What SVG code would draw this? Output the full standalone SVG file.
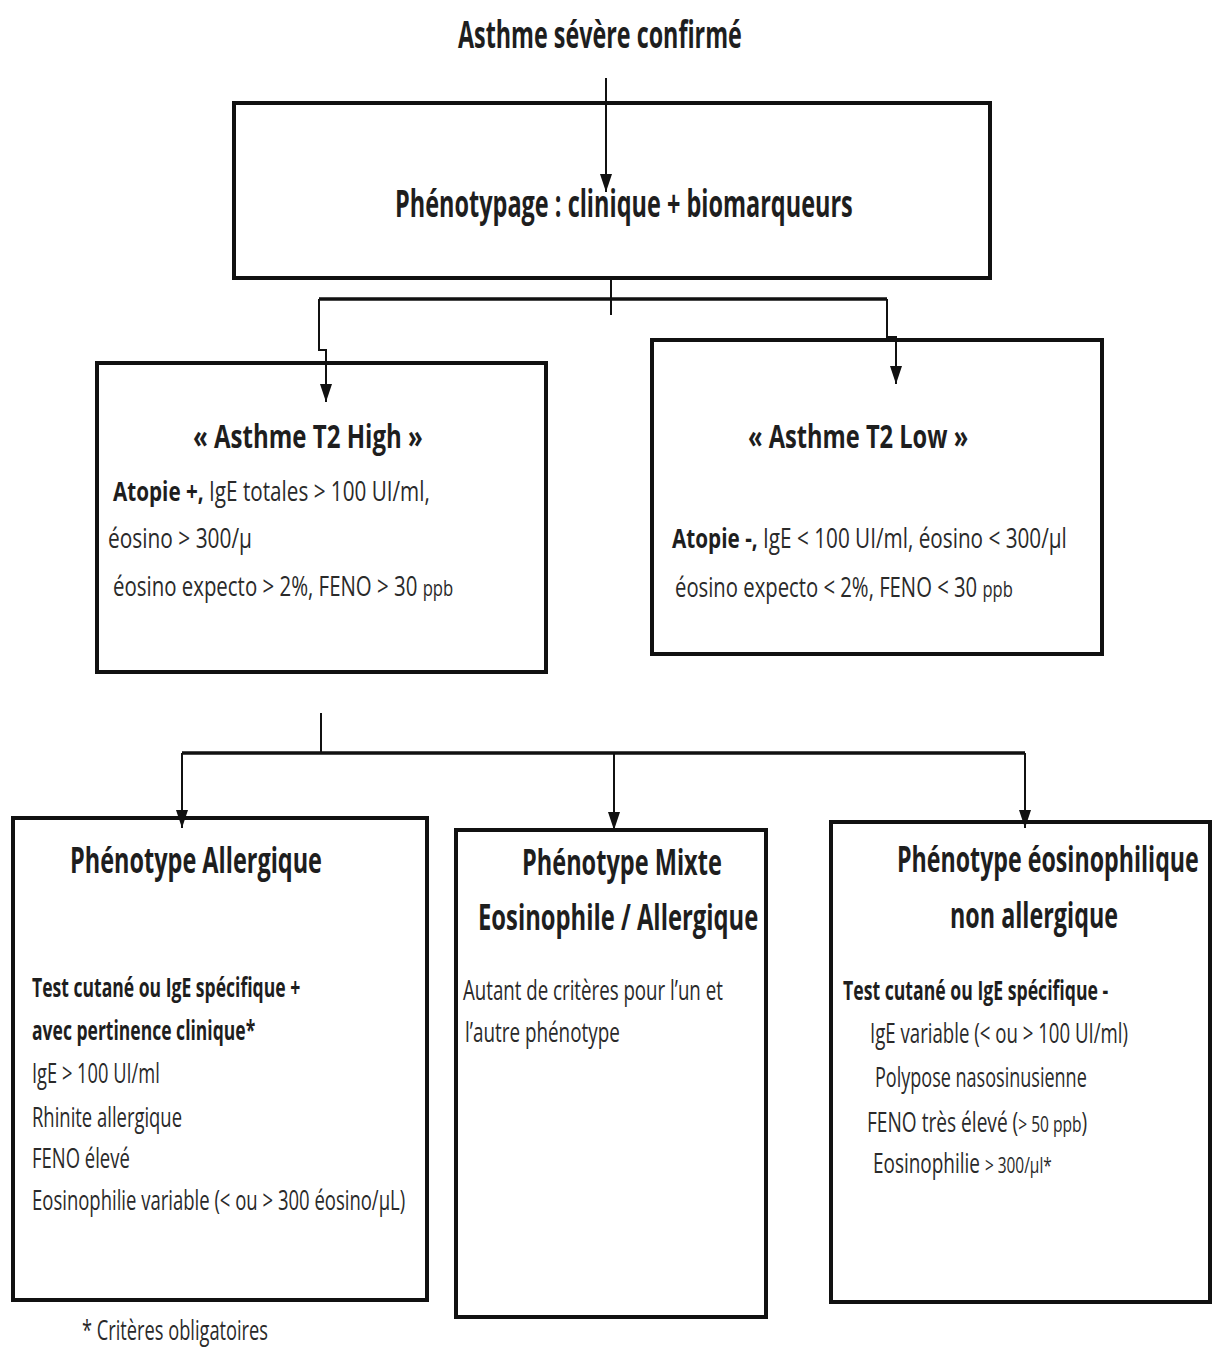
<svg xmlns="http://www.w3.org/2000/svg" width="1212" height="1354" viewBox="0 0 1212 1354">
  <defs>
    <marker id="arrow" viewBox="0 0 18 12" refX="18" refY="6" markerWidth="18" markerHeight="12" markerUnits="userSpaceOnUse" orient="auto">
      <path d="M0,0 L18,6 L0,12 Z" fill="#111"/>
    </marker>
    <style>
      text { font-family: "Open Sans", "Liberation Sans", sans-serif; fill: #1e1e1e; }
      .h1 { font-size: 37px; font-weight: 700; }
      .h2 { font-size: 33px; font-weight: 700; }
      .h3 { font-size: 35px; font-weight: 700; }
      .b { font-size: 27px; font-weight: 400; fill: #2a2a2a; }
      .bb { font-weight: 700; fill: #1e1e1e; }
      .sm { font-size: 22px; }
      .box { fill: #fff; stroke: #111; stroke-width: 4; }
      .wire { fill: none; stroke: #111; stroke-width: 2; }
      .bus { fill: none; stroke: #111; stroke-width: 3.5; }
    </style>
  </defs>

  <rect width="1212" height="1354" fill="#fff"/>

  <!-- title (all text is drawn narrow: x-scale 0.6) -->
  <g id="title">
    <text class="h1" transform="translate(458,48) scale(0.6,1)" textLength="473" lengthAdjust="spacingAndGlyphs">Asthme sévère confirmé</text>
  </g>

  <!-- nodes -->
  <g id="phenotypage">
    <rect class="box" x="234" y="103" width="756" height="175"/>
    <text class="h1" transform="translate(395,217) scale(0.6,1)" textLength="763" lengthAdjust="spacingAndGlyphs">Phénotypage : clinique + biomarqueurs</text>
  </g>

  <g id="t2-high">
    <rect class="box" x="97" y="363" width="449" height="309"/>
    <text class="h2" transform="translate(193,448) scale(0.6,1)" textLength="383" lengthAdjust="spacingAndGlyphs">« Asthme T2 High »</text>
    <text class="b" transform="translate(113,501) scale(0.6,1)" textLength="528" lengthAdjust="spacingAndGlyphs"><tspan class="bb">Atopie +,</tspan> IgE totales &gt; 100 UI/ml,</text>
    <text class="b" transform="translate(108,548) scale(0.6,1)" textLength="240" lengthAdjust="spacingAndGlyphs">éosino &gt; 300/µ</text>
    <text class="b" transform="translate(113,596) scale(0.6,1)" textLength="567" lengthAdjust="spacingAndGlyphs">éosino expecto &gt; 2%, FENO &gt; 30 <tspan class="sm">ppb</tspan></text>
  </g>

  <g id="t2-low">
    <rect class="box" x="652" y="340" width="450" height="314"/>
    <text class="h2" transform="translate(748,448) scale(0.6,1)" textLength="367" lengthAdjust="spacingAndGlyphs">« Asthme T2 Low »</text>
    <text class="b" transform="translate(672,548) scale(0.6,1)" textLength="658" lengthAdjust="spacingAndGlyphs"><tspan class="bb">Atopie -,</tspan> IgE &lt; 100 UI/ml, éosino &lt; 300/µl</text>
    <text class="b" transform="translate(675,597) scale(0.6,1)" textLength="563" lengthAdjust="spacingAndGlyphs">éosino expecto &lt; 2%, FENO &lt; 30 <tspan class="sm">ppb</tspan></text>
  </g>

  <g id="allergique">
    <rect class="box" x="13" y="818" width="414" height="482"/>
    <text class="h3" transform="translate(70,873) scale(0.6,1)" textLength="420" lengthAdjust="spacingAndGlyphs">Phénotype Allergique</text>
    <text class="b bb" transform="translate(32,997) scale(0.6,1)" textLength="447" lengthAdjust="spacingAndGlyphs">Test cutané ou IgE spécifique +</text>
    <text class="b bb" transform="translate(32,1040) scale(0.6,1)" textLength="372" lengthAdjust="spacingAndGlyphs">avec pertinence clinique*</text>
    <text class="b" transform="translate(32,1083) scale(0.6,1)" textLength="213" lengthAdjust="spacingAndGlyphs">IgE &gt; 100 UI/ml</text>
    <text class="b" transform="translate(32,1127) scale(0.6,1)" textLength="250" lengthAdjust="spacingAndGlyphs">Rhinite allergique</text>
    <text class="b" transform="translate(32,1168) scale(0.6,1)" textLength="163" lengthAdjust="spacingAndGlyphs">FENO élevé</text>
    <text class="b" transform="translate(32,1210) scale(0.6,1)" textLength="622" lengthAdjust="spacingAndGlyphs">Eosinophilie variable (&lt; ou &gt; 300 éosino/µL)</text>
  </g>

  <g id="mixte">
    <rect class="box" x="456" y="830" width="310" height="487"/>
    <text class="h3" transform="translate(522,875) scale(0.6,1)" textLength="333" lengthAdjust="spacingAndGlyphs">Phénotype Mixte</text>
    <text class="h3" transform="translate(478,930) scale(0.6,1)" textLength="467" lengthAdjust="spacingAndGlyphs">Eosinophile / Allergique</text>
    <text class="b" transform="translate(463,1000) scale(0.6,1)" textLength="433" lengthAdjust="spacingAndGlyphs">Autant de critères pour l’un et</text>
    <text class="b" transform="translate(465,1042) scale(0.6,1)" textLength="258" lengthAdjust="spacingAndGlyphs">l’autre phénotype</text>
  </g>

  <g id="eosinophilique">
    <rect class="box" x="831" y="822" width="379" height="480"/>
    <text class="h3" transform="translate(897,872) scale(0.6,1)" textLength="503" lengthAdjust="spacingAndGlyphs">Phénotype éosinophilique</text>
    <text class="h3" transform="translate(950,928) scale(0.6,1)" textLength="280" lengthAdjust="spacingAndGlyphs">non allergique</text>
    <text class="b bb" transform="translate(843,1000) scale(0.6,1)" textLength="442" lengthAdjust="spacingAndGlyphs">Test cutané ou IgE spécifique -</text>
    <text class="b" transform="translate(870,1043) scale(0.6,1)" textLength="430" lengthAdjust="spacingAndGlyphs">IgE variable (&lt; ou &gt; 100 UI/ml)</text>
    <text class="b" transform="translate(875,1087) scale(0.6,1)" textLength="353" lengthAdjust="spacingAndGlyphs">Polypose nasosinusienne</text>
    <text class="b" transform="translate(867,1132) scale(0.6,1)" textLength="367" lengthAdjust="spacingAndGlyphs">FENO très élevé (<tspan class="sm">&gt; 50 ppb</tspan>)</text>
    <text class="b" transform="translate(873,1173) scale(0.6,1)" textLength="298" lengthAdjust="spacingAndGlyphs">Eosinophilie <tspan class="sm">&gt; 300/µl*</tspan></text>
  </g>

  <g id="footnote">
    <text class="b" transform="translate(82,1340) scale(0.6,1)" textLength="310" lengthAdjust="spacingAndGlyphs">* Critères obligatoires</text>
  </g>

  <!-- connectors -->
  <g id="connectors">
    <path class="wire" d="M606,78 V192" marker-end="url(#arrow)"/>
    <path class="wire" d="M611,278 V315"/>
    <path class="bus" d="M319,299 H887"/>
    <path class="wire" d="M319,299 V350 H326 V402" marker-end="url(#arrow)"/>
    <path class="wire" d="M887,299 V337 H896 V384" marker-end="url(#arrow)"/>
    <path class="wire" d="M321,713 V753"/>
    <path class="bus" d="M182,753 H1025"/>
    <path class="wire" d="M182,753 V828" marker-end="url(#arrow)"/>
    <path class="wire" d="M614,753 V830" marker-end="url(#arrow)"/>
    <path class="wire" d="M1025,753 V828" marker-end="url(#arrow)"/>
  </g>
</svg>
